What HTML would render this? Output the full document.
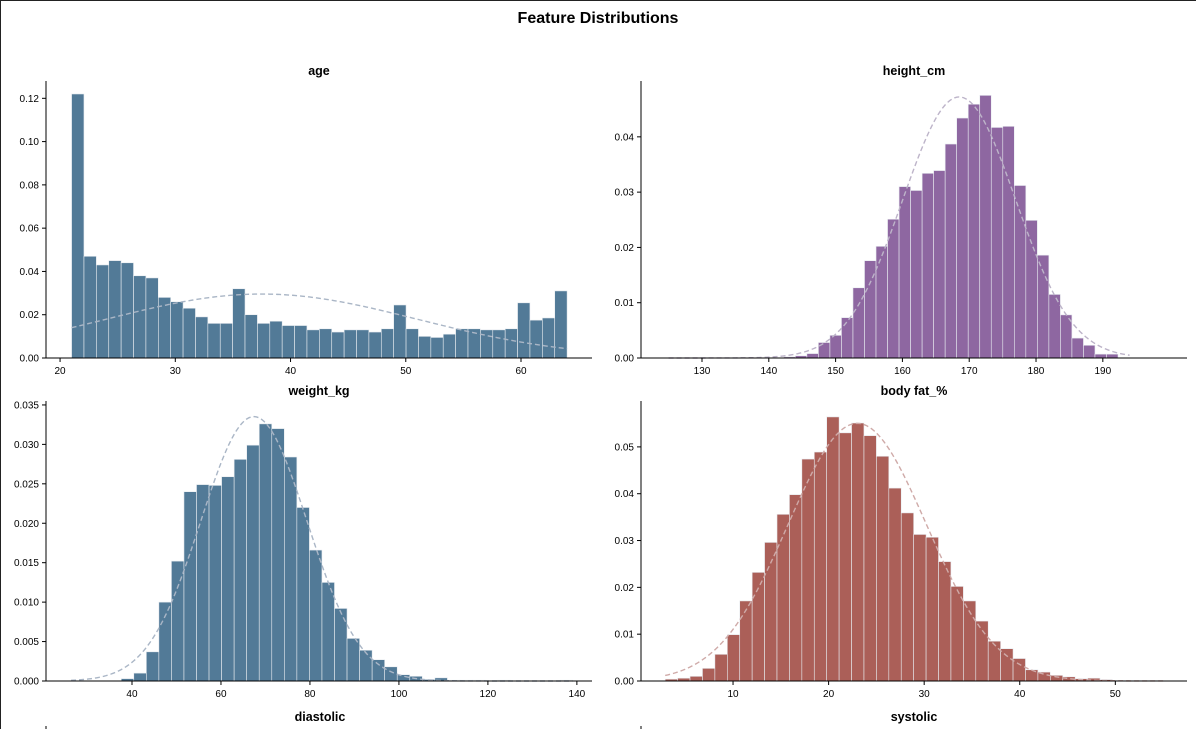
<!DOCTYPE html>
<html><head><meta charset="utf-8"><style>
body{margin:0;background:#fff;}
#fig{position:relative;width:1196px;height:729px;overflow:hidden;box-sizing:border-box;border-left:1px solid #222;border-top:1px solid #222;}
svg text{font-family:"Liberation Sans",sans-serif;}
</style></head><body>
<div id="fig">
<svg id="svg" width="1196" height="729">
<text x="597" y="22" text-anchor="middle" font-size="16" font-weight="bold">Feature Distributions</text>
<text x="319" y="720" text-anchor="middle" font-size="12.5" font-weight="bold">diastolic</text>
<text x="913" y="720" text-anchor="middle" font-size="12.5" font-weight="bold">systolic</text>
<line x1="45" y1="725" x2="45" y2="729" stroke="#000"/>
<line x1="640" y1="725" x2="640" y2="729" stroke="#000"/>
</svg>
</div>
<script>
// age
const ageStart = 21, ageWidth = 1.075;
const ageValues = [0.122,0.047,0.043,0.045,0.044,0.038,0.037,0.028,0.026,0.023,0.019,0.016,0.016,0.032,0.020,0.016,0.017,0.015,0.015,0.013,0.0135,0.012,0.013,0.013,0.012,0.0135,0.0245,0.0135,0.010,0.0095,0.011,0.0135,0.0135,0.013,0.013,0.0135,0.0255,0.0175,0.0185,0.031];
const ageFit = [37.5, 13.5, 21, 64];
const ageYTicks = ["0.00","0.02","0.04","0.06","0.08","0.10","0.12"];
const ageXTicks = [20,30,40,50,60];
// height
const heightStart = 125, heightWidth = 1.725;
const heightValues = [0,0,0,0,0,0,0,0,0,0,0.0002,0.0004,0.0008,0.0028,0.0041,0.0073,0.0127,0.0176,0.0202,0.0251,0.031,0.0303,0.0334,0.0339,0.0387,0.0434,0.0459,0.0475,0.0417,0.0419,0.0312,0.0249,0.0186,0.0115,0.0078,0.0036,0.0023,0.0007,0.0007,0];
const heightFit = [168.5, 8.45, 125, 194];
const heightYTicks = ["0.00","0.01","0.02","0.03","0.04"];
const heightXTicks = [130,140,150,160,170,180,190];
// weight
const weightStart = 26.3, weightWidth = 2.82;
const weightValues = [0,0,0,0,0.0003,0.001,0.0037,0.010,0.0152,0.024,0.0249,0.0248,0.0259,0.0281,0.0299,0.0326,0.032,0.0284,0.022,0.0166,0.0125,0.0092,0.0054,0.0039,0.0027,0.0018,0.0008,0.0006,0.0002,0.0004,0.0001,0.0001,0.0001,0,0.0001,0,0,0,0,0.0001];
const weightFit = [67.4, 11.9, 26.3, 139];
const weightYTicks = ["0.000","0.005","0.010","0.015","0.020","0.025","0.030","0.035"];
const weightXTicks = [40,60,80,100,120,140];
// body fat
const fatStart = 2.9, fatWidth = 1.30;
const fatValues = [0.0004,0.0006,0.001,0.0027,0.0057,0.0099,0.0171,0.0232,0.0296,0.0356,0.0398,0.0474,0.0489,0.0564,0.053,0.0551,0.0524,0.048,0.0412,0.0359,0.0313,0.0307,0.0255,0.0202,0.0171,0.0128,0.0085,0.0069,0.0048,0.0024,0.0019,0.0012,0.0009,0.0005,0.0006,0.0003,0.0001,0.0001,0.0001,0.0001];
const fatFit = [23.0, 7.25, 2.9, 55];
const fatYTicks = ["0.00","0.01","0.02","0.03","0.04","0.05"];
const fatXTicks = [10,20,30,40,50];

const NS = "http://www.w3.org/2000/svg";
const svg = document.getElementById('svg');
function mk(tag, attrs, parent){const e=document.createElementNS(NS,tag);for(const k in attrs)e.setAttribute(k,attrs[k]);(parent||svg).appendChild(e);return e;}

function panel(name, title, L, R, T, B, xmin, xmax, ymax, start, width, values, fit, yTicks, yStep, xTicks, color, curveColor){
  const g = mk('g',{});
  
  
  const sx = v => L + (v - xmin) / (xmax - xmin) * (R - L);
  const sy = v => B - v / ymax * (B - T);
  values.forEach((v,i)=>{
    if(v<=0) return;
    const x0 = sx(start + i*width), x1 = sx(start + (i+1)*width);
    const r = mk('rect',{x:x0,y:sy(v),width:x1-x0,height:B-sy(v),fill:color,stroke:'#e8ecf0','stroke-width':0.6},g);
    
    
  });
  const [mu, sd, a, b] = fit;
  let d = '';
  for(let k=0;k<=200;k++){const x=a+(b-a)*k/200;const y=Math.exp(-0.5*((x-mu)/sd)**2)/(sd*Math.sqrt(2*Math.PI));d+=(k?'L':'M')+sx(x).toFixed(2)+','+sy(y).toFixed(2);}
  const p = mk('path',{d:d,fill:'none',stroke:curveColor,'stroke-width':1.4,'stroke-dasharray':'5,3'},g);
  
  
  const ya = mk('line',{x1:L,y1:T,x2:L,y2:B,stroke:'#000','stroke-width':1},g);
  
  
  const xa = mk('line',{x1:L,y1:B,x2:R,y2:B,stroke:'#000','stroke-width':1},g);
  
  
  yTicks.forEach((t,i)=>{
    const y = sy(i*yStep);
    mk('line',{x1:L-4,y1:y,x2:L,y2:y,stroke:'#000'},g);
    const tx = mk('text',{x:L-7,y:y+3.5,'font-size':10,'text-anchor':'end'},g);
    tx.textContent = t;
    
    
  });
  xTicks.forEach(t=>{
    const x = sx(t);
    mk('line',{x1:x,y1:B,x2:x,y2:B+4,stroke:'#000'},g);
    const tx = mk('text',{x:x,y:B+16,'font-size':10,'text-anchor':'middle'},g);
    tx.textContent = t;
    
    
  });
  const tt = mk('text',{x:(L+R)/2,y:T-6,'font-size':12.5,'font-weight':'bold','text-anchor':'middle'},g);
  tt.textContent = title;
  
  
}
panel('age','age',45,591,80,357,18.78,66.16,0.128,ageStart,ageWidth,ageValues,ageFit,ageYTicks,0.02,ageXTicks,'#527a97','#aab6c6');
panel('height','height_cm',640,1186,80,357,120.87,202.6,0.0501,heightStart,heightWidth,heightValues,heightFit,heightYTicks,0.01,heightXTicks,'#8e67a1','#bdb4c9');
panel('weight','weight_kg',45,591,400,680,20.67,143.4,0.0355,weightStart,weightWidth,weightValues,weightFit,weightYTicks,0.005,weightXTicks,'#527a97','#aab6c6');
panel('bodyfat','body fat_%',640,1186,400,680,0.37,57.5,0.0598,fatStart,fatWidth,fatValues,fatFit,fatYTicks,0.01,fatXTicks,'#ab5f58','#cfaaa8');
</script>
</body></html>
